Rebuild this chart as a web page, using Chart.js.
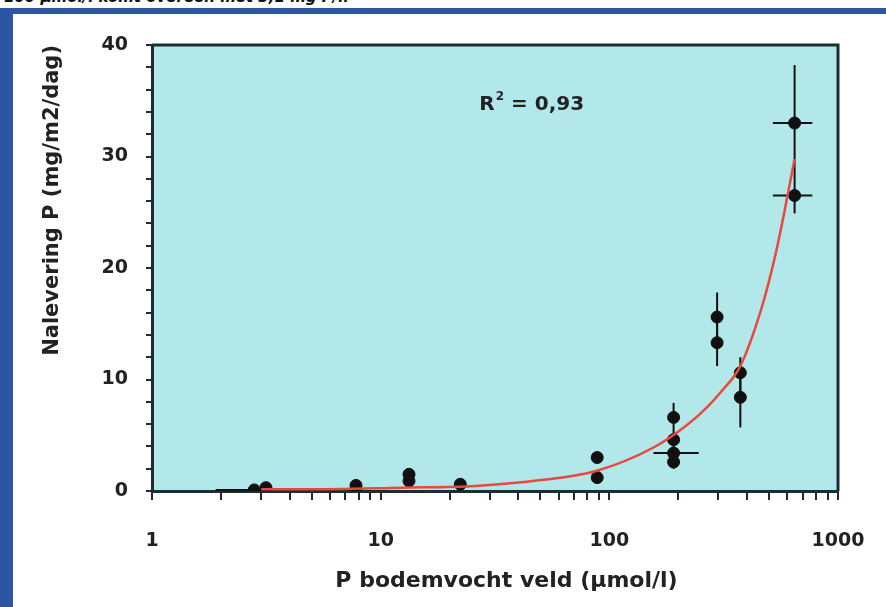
<!DOCTYPE html>
<html lang="nl">
<head>
    <meta charset="UTF-8">
    <title>Nalevering P</title>
    <script src="https://cdn.jsdelivr.net/npm/chart.js"></script>
    <style>
        body {
            margin: 0;
            background: #fff;
            font-family: "DejaVu Sans", Arial, sans-serif;
        }
        #wrap {
            position: relative;
            width: 886px;
            height: 607px;
            overflow: hidden;
        }
        .frame-top {
            position: absolute;
            left: 0; top: 8px;
            width: 886px; height: 6px;
            background: #2c56a3;
        }
        .frame-left {
            position: absolute;
            left: 0; top: 8px;
            width: 13px; height: 599px;
            background: #2c56a3;
        }
        .cut-text {
            position: absolute;
            left: 4px; top: -12px;
            font: italic bold 15px "DejaVu Sans", Arial, sans-serif;
            color: #111;
            white-space: nowrap;
        }
        canvas {
            position: absolute;
            left: 0; top: 0;
        }
    </style>
</head>
<body>
<div id="wrap">
    <div class="cut-text">100 µmol/l komt overeen met 3,1 mg P/l.</div>
    <div class="frame-top"></div>
    <div class="frame-left"></div>
    <canvas id="chart" width="886" height="607"></canvas>
</div>

<script>
    // meetpunten
    const puntX = [2.8, 3.15, 7.8, 7.8, 13.3, 13.3, 22.3, 88.5, 88.5, 191, 191, 191, 191, 296, 296, 374, 374, 646, 646];
    const puntY = [0.1, 0.3, 0.5, 0.1, 1.5, 0.9, 0.6, 3.0, 1.2, 6.6, 4.6, 3.4, 2.6, 15.6, 13.3, 10.6, 8.4, 33.0, 26.5];

    // foutbalken (null = geen)
    const foutYLaag = [null, null, null, null, null, null, null, null, null, 5.0, null, 2.0, null, 13.5, 11.2, 9.0, 5.7, 29.0, 24.9];
    const foutYHoog = [null, null, null, null, null, null, null, null, null, 7.9, null, 5.0, null, 17.8, 15.0, 12.0, 10.0, 38.2, 29.0];
    const foutXLaag = [1.9, null, null, null, null, null, null, null, null, null, null, 156, null, null, null, null, null, 519, 519];
    const foutXHoog = [3.1, null, null, null, null, null, null, null, null, null, null, 246, null, null, null, null, null, 772, 772];

    // fitlijn
    const curveX = [3.0, 4.5, 12.4, 25.9, 51.2, 87.6, 156, 218, 270, 308, 374, 463, 530, 585, 646];
    const curveY = [0.15, 0.15, 0.3, 0.45, 1.0, 1.8, 3.9, 5.9, 7.6, 8.9, 11.2, 16.4, 21.0, 25.2, 29.8];

    const xLabels = [1, 10, 100, 1000];
    const yLabels = [0, 10, 20, 30, 40];

    const annotatie = { x: 27, y: 34.6 };

    const punten = puntX.map((x, i) => ({ x: x, y: puntY[i] }));
    const curve = curveX.map((x, i) => ({ x: x, y: curveY[i] }));

    const achtergrond = {
        id: 'achtergrond',
        beforeDraw(chart) {
            const { ctx, chartArea: a } = chart;
            ctx.save();
            ctx.fillStyle = '#b3e8eb';
            ctx.fillRect(a.left, a.top, a.right - a.left, a.bottom - a.top);
            ctx.restore();
        },
        afterDraw(chart) {
            const { ctx, chartArea: a, scales } = chart;
            ctx.save();
            ctx.strokeStyle = '#1c2e33';
            ctx.lineWidth = 3;
            ctx.beginPath();
            ctx.moveTo(a.left, a.top);
            ctx.lineTo(a.right, a.top);
            ctx.lineTo(a.right, a.bottom);
            ctx.stroke();
            // R² = 0,93 met kleine superscript
            let x = scales.x.getPixelForValue(annotatie.x);
            const y = scales.y.getPixelForValue(annotatie.y);
            ctx.fillStyle = '#222';
            ctx.textBaseline = 'middle';
            ctx.font = 'bold 20px "DejaVu Sans", Arial, sans-serif';
            ctx.fillText('R', x, y);
            x += ctx.measureText('R').width + 1;
            ctx.font = 'bold 12px "DejaVu Sans", Arial, sans-serif';
            ctx.fillText('2', x, y - 8);
            x += ctx.measureText('2').width;
            ctx.font = 'bold 20px "DejaVu Sans", Arial, sans-serif';
            ctx.fillText(' = 0,93', x, y);
            ctx.restore();
        }
    };

    const foutbalken = {
        id: 'foutbalken',
        beforeDatasetsDraw(chart) {
            const { ctx, scales } = chart;
            ctx.save();
            ctx.strokeStyle = '#111';
            ctx.lineWidth = 2;
            puntX.forEach((x, i) => {
                const px = scales.x.getPixelForValue(x);
                const py = scales.y.getPixelForValue(puntY[i]);
                if (foutYLaag[i] !== null) {
                    ctx.beginPath();
                    ctx.moveTo(px, scales.y.getPixelForValue(foutYLaag[i]));
                    ctx.lineTo(px, scales.y.getPixelForValue(foutYHoog[i]));
                    ctx.stroke();
                }
                if (foutXLaag[i] !== null) {
                    ctx.beginPath();
                    ctx.moveTo(scales.x.getPixelForValue(foutXLaag[i]), py);
                    ctx.lineTo(scales.x.getPixelForValue(foutXHoog[i]), py);
                    ctx.stroke();
                }
            });
            ctx.restore();
        }
    };

    const tickFont = { family: '"DejaVu Sans", Arial, sans-serif', size: 19, weight: 'bold' };

    new Chart(document.getElementById('chart'), {
        type: 'scatter',
        data: {
            datasets: [
                {
                    label: 'meting',
                    data: punten,
                    pointRadius: 6,
                    pointBackgroundColor: '#111',
                    pointBorderColor: '#111',
                    showLine: false,
                    order: 2
                },
                {
                    label: 'fit',
                    data: curve,
                    showLine: true,
                    pointRadius: 0,
                    borderColor: '#e8493e',
                    borderWidth: 2.5,
                    cubicInterpolationMode: 'monotone',
                    order: 1
                }
            ]
        },
        options: {
            responsive: false,
            animation: false,
            layout: { padding: { left: 0, top: 45, right: 48, bottom: 0 } },
            plugins: {
                legend: { display: false },
                tooltip: { enabled: false }
            },
            scales: {
                x: {
                    type: 'logarithmic',
                    min: 1,
                    max: 1000,
                    afterFit(scale) {
                        scale.height = 116;
                        scale.paddingLeft = 0;
                        scale.paddingRight = 0;
                    },
                    afterBuildTicks(scale) {
                        const t = [];
                        for (let d = 1; d < 1000; d *= 10) {
                            for (let m = 1; m < 10; m++) t.push({ value: m * d });
                        }
                        t.push({ value: 1000 });
                        scale.ticks = t;
                    },
                    grid: { display: true, drawOnChartArea: false, drawTicks: true, tickLength: 9, color: '#1c2e33', lineWidth: 2 },
                    border: { display: true, color: '#1c2e33', width: 3 },
                    ticks: {
                        autoSkip: false,
                        maxRotation: 0,
                        padding: 30,
                        color: '#222',
                        font: tickFont,
                        callback: (v) => xLabels.includes(v) ? String(v) : ''
                    },
                    title: {
                        display: true,
                        text: '   P bodemvocht veld (µmol/l)',
                        color: '#222',
                        font: { family: '"DejaVu Sans", Arial, sans-serif', size: 22, weight: 'bold' },
                        padding: { top: 0, bottom: 13 }
                    }
                },
                y: {
                    min: 0,
                    max: 40,
                    afterFit(scale) {
                        scale.width = 152;
                        scale.paddingTop = 0;
                        scale.paddingBottom = 0;
                    },
                    grid: { display: true, drawOnChartArea: false, drawTicks: true, tickLength: 6, color: '#1c2e33', lineWidth: 2 },
                    border: { display: true, color: '#1c2e33', width: 3 },
                    ticks: {
                        stepSize: 2,
                        autoSkip: false,
                        padding: 18,
                        color: '#222',
                        font: tickFont,
                        callback: (v) => yLabels.includes(v) ? String(v) : ''
                    },
                    title: {
                        display: true,
                        text: 'Nalevering P (mg/m2/dag)',
                        align: 'end',
                        color: '#222',
                        font: { family: '"DejaVu Sans", Arial, sans-serif', size: 21, weight: 'bold' },
                        padding: { top: 40, bottom: 0 }
                    }
                }
            }
        },
        plugins: [achtergrond, foutbalken]
    });
</script>
</body>
</html>
